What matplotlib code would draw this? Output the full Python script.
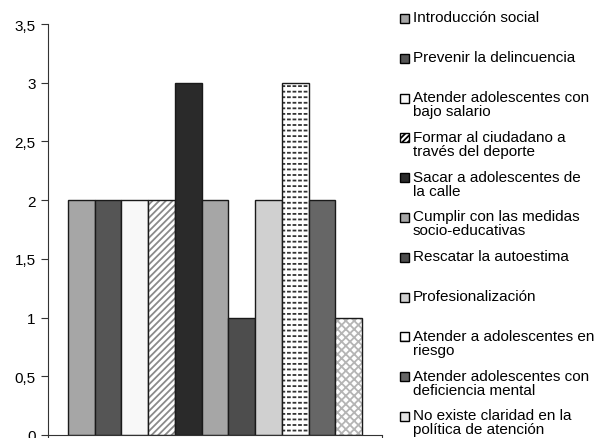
import matplotlib.pyplot as plt
from matplotlib.patches import Rectangle

plt.rcParams['font.family'] = ['Liberation Sans', 'DejaVu Sans']
plt.rcParams['hatch.linewidth'] = 1.3

labels = ['Introducción social',
          'Prevenir la delincuencia',
          'Atender adolescentes con\nbajo salario',
          'Formar al ciudadano a\ntravés del deporte',
          'Sacar a adolescentes de\nla calle',
          'Cumplir con las medidas\nsocio-educativas',
          'Rescatar la autoestima',
          'Profesionalización',
          'Atender a adolescentes en\nriesgo',
          'Atender adolescentes con\ndeficiencia mental',
          'No existe claridad en la\npolítica de atención']
values = [2, 2, 2, 2, 3, 2, 1, 2, 3, 2, 1]

colors = ['#a6a6a6', '#555555', '#f8f8f8', 'white', '#2a2a2a', '#a6a6a6',
          '#4d4d4d', '#d0d0d0', 'white', '#666666', 'white']
hatches = [None, None, None, '/////', None, None, None, None, '---', None, 'xxxx']
hatch_colors = [None, None, None, '#8a8a8a', None, None, None, None, '#333333', None, '#b5b5b5']

yticks = [0, 0.5, 1, 1.5, 2, 2.5, 3, 3.5]
ytick_labels = ['0', '0,5', '1', '1,5', '2', '2,5', '3', '3,5']

fig = plt.figure(figsize=(6.02, 4.39), dpi=100)
ax = fig.add_axes([48 / 602, 3 / 439, 334 / 602, 411 / 439])

for i, v in enumerate(values):
    if hatches[i]:
        ax.bar(i, v, width=1.0, color=colors[i], edgecolor=hatch_colors[i],
               hatch=hatches[i], linewidth=0)
        if hatches[i] == '---':
            # break the lines into dashes
            ax.bar(i, v, width=1.0, fill=False, edgecolor='white',
                   hatch='|||', linewidth=0)
        ax.bar(i, v, width=1.0, fill=False, edgecolor='#1a1a1a', linewidth=1.0)
    else:
        ax.bar(i, v, width=1.0, color=colors[i], edgecolor='#1a1a1a', linewidth=1.0)

ax.set_xlim(-1.25, len(values) - 1 + 1.25)
ax.set_ylim(0, 3.5)
ax.set_yticks(yticks)
ax.set_yticklabels(ytick_labels, fontsize=11)
ax.set_xticks([-1.25, len(values) - 1 + 1.25])
ax.set_xticklabels([])
ax.tick_params(axis='both', direction='out', length=5, color='#333333', pad=4)
ax.spines['top'].set_visible(False)
ax.spines['right'].set_visible(False)
ax.spines['left'].set_color('#333333')
ax.spines['bottom'].set_color('#333333')

# legend drawn by hand so the key sits next to the first line
key_hatch = [None, None, None, '//////', None, None, None, None, '-', None, None]
key_face = list(colors)
key_face[10] = '#e4e4e4'
for i, lab in enumerate(labels):
    yc = 1 - (19.5 + 39.8 * i) / 439
    r = Rectangle((400 / 602, yc - 4.5 / 439), 9 / 602, 9 / 439,
                  transform=fig.transFigure, facecolor=key_face[i],
                  edgecolor='black', linewidth=1.0, hatch=key_hatch[i])
    fig.patches.append(r)
    fig.text(413 / 602, yc + 8 / 439, lab, fontsize=11, va='top', ha='left',
             linespacing=1.0)

fig.savefig('out.png', dpi=100)
